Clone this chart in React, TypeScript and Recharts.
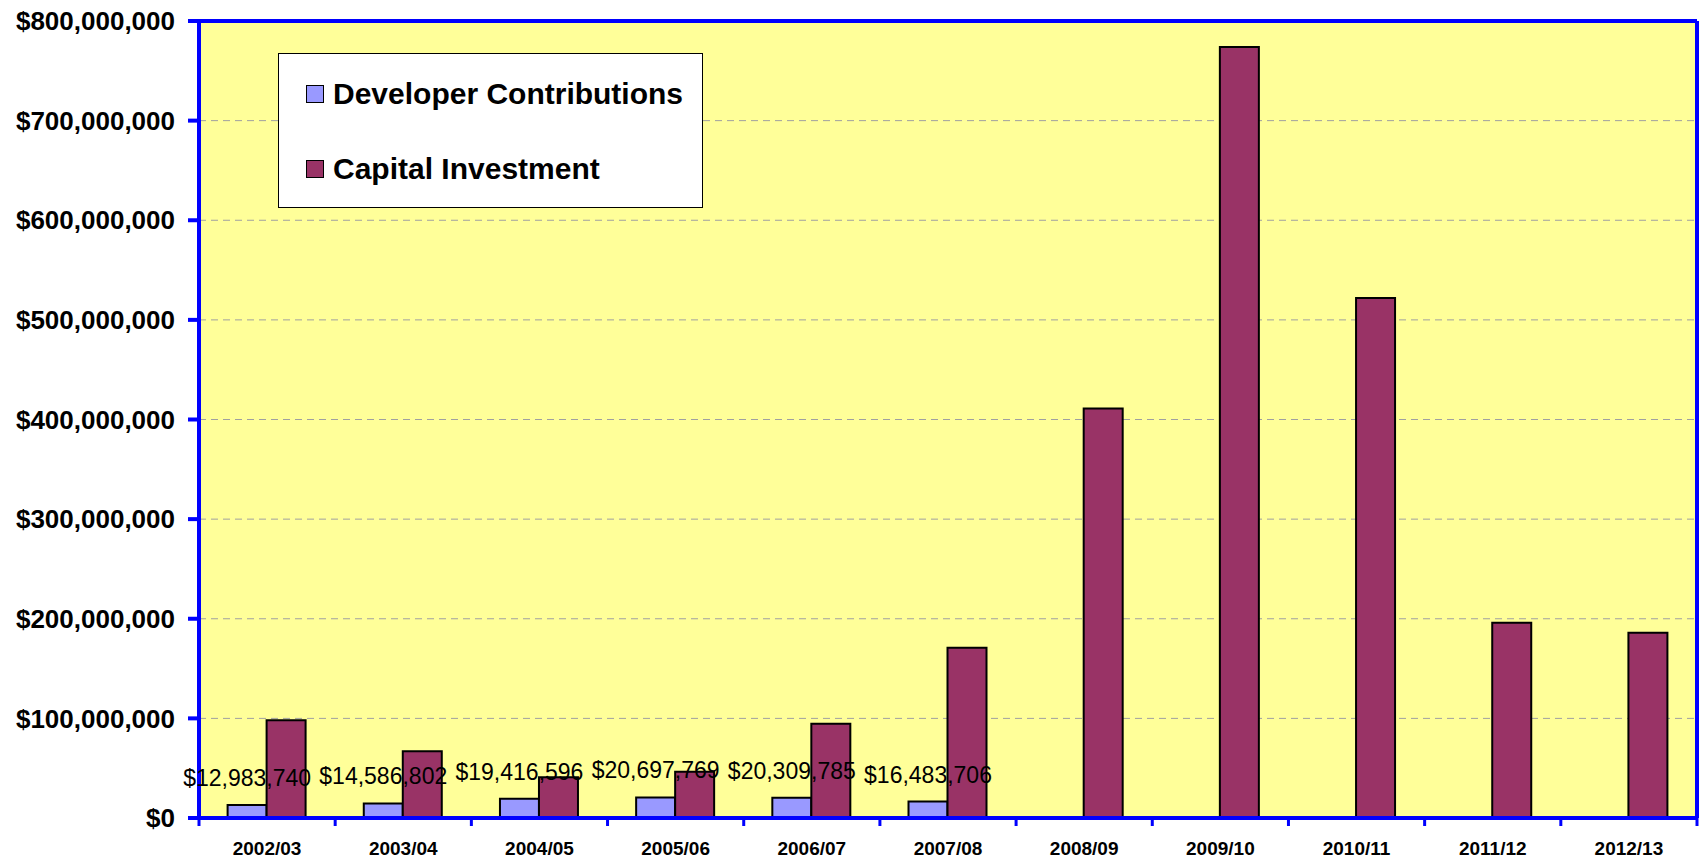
import React from 'react';
import { BarChart, Bar, XAxis, YAxis, CartesianGrid, Legend, LabelList } from 'recharts';

const years = ['2002/03', '2003/04', '2004/05', '2005/06', '2006/07', '2007/08', '2008/09', '2009/10', '2010/11', '2011/12', '2012/13'];
const developerContributions: (number | null)[] = [12983740, 14586802, 19416596, 20697769, 20309785, 16483706, null, null, null, null, null];
const capitalInvestment: number[] = [98000000, 67000000, 41000000, 46500000, 94500000, 171000000, 411000000, 774000000, 522000000, 196000000, 186000000];
const yTicks = [0, 100000000, 200000000, 300000000, 400000000, 500000000, 600000000, 700000000, 800000000];

const data = years.map((year, i) => ({
  year,
  dev: developerContributions[i],
  cap: capitalInvestment[i],
}));

const W = 1704;
const H = 861;
const PLOT_LEFT = 199;
const PLOT_RIGHT = 1697;
const BAND = (PLOT_RIGHT - PLOT_LEFT) / years.length;
const BLUE = '#0000FF';
const FONT = '"Liberation Sans", Arial, sans-serif';
const DEV_COLOR = '#9999FF';
const CAP_COLOR = '#993366';

const money = (v: number) => '$' + Math.round(v).toLocaleString('en-US');

const XTick = (props: any) => {
  const { x, y, payload, index } = props;
  const half = BAND / 2;
  return (
    <g>
      <line x1={x - half} x2={x - half} y1={y} y2={y + 8} stroke={BLUE} strokeWidth={3} />
      {index === years.length - 1 && (
        <line x1={x + half} x2={x + half} y1={y} y2={y + 8} stroke={BLUE} strokeWidth={3} />
      )}
      <text x={x} y={y + 24} dy="0.71em" textAnchor="middle" fontFamily={FONT} fontWeight="bold" fontSize={19} fill="#000">
        {payload.value}
      </text>
    </g>
  );
};

const LegendBox = () => (
  <div
    style={{
      width: 425,
      height: 155,
      background: '#FFFFFF',
      border: '1.5px solid #000',
      boxSizing: 'border-box',
      position: 'relative',
      fontFamily: FONT,
      fontWeight: 'bold',
      fontSize: 30,
      color: '#000',
    }}
  >
    {[
      { name: 'Developer Contributions', color: DEV_COLOR, cy: 40 },
      { name: 'Capital Investment', color: CAP_COLOR, cy: 115 },
    ].map((it) => (
      <div key={it.name} style={{ position: 'absolute', left: 27, top: it.cy - 18, height: 36, display: 'flex', alignItems: 'center', whiteSpace: 'nowrap' }}>
        <span style={{ display: 'inline-block', width: 16, height: 16, background: it.color, border: '1.5px solid #000', marginRight: 9 }} />
        <span style={{ lineHeight: '36px' }}>{it.name}</span>
      </div>
    ))}
  </div>
);

export default function App() {
  return (
    <div style={{ position: 'absolute', left: 0, top: 0, width: W, height: H, background: '#FFFFFF' }}>
      <BarChart
        width={W}
        height={H}
        data={data}
        margin={{ top: 20, right: W - PLOT_RIGHT - 1, bottom: 0, left: 0 }}
        barCategoryGap="21%"
        barGap={0}
      >
        <CartesianGrid vertical={false} stroke="#A0A0A0" strokeDasharray="7 5" fill="#FFFF99" fillOpacity={1} />
        <XAxis
          dataKey="year"
          interval={0}
          tickSize={0}
          tickMargin={0}
          tickLine={false}
          height={43}
          axisLine={{ stroke: BLUE, strokeWidth: 4 }}
          tick={<XTick />}
        />
        <XAxis
          xAxisId="top"
          dataKey="year"
          orientation="top"
          height={1}
          tick={false}
          tickLine={false}
          axisLine={{ stroke: BLUE, strokeWidth: 4 }}
        />
        <YAxis
          width={PLOT_LEFT}
          domain={[0, 800000000]}
          ticks={yTicks}
          interval={0}
          allowDataOverflow
          tickSize={11}
          tickMargin={13}
          tickLine={{ stroke: BLUE, strokeWidth: 4 }}
          axisLine={{ stroke: BLUE, strokeWidth: 4 }}
          tickFormatter={money}
          tick={{ fontFamily: FONT, fontWeight: 'bold', fontSize: 26, fill: '#000' }}
        />
        <YAxis
          yAxisId="r"
          orientation="right"
          width={1}
          domain={[0, 800000000]}
          allowDataOverflow
          tick={false}
          tickLine={false}
          axisLine={{ stroke: BLUE, strokeWidth: 4 }}
        />
        <Legend
          layout="horizontal"
          verticalAlign="middle"
          align="center"
          content={<LegendBox />}
          wrapperStyle={{ position: 'absolute', left: 278, top: 53, width: 425, height: 155 }}
        />
        <Bar dataKey="dev" name="Developer Contributions" fill={DEV_COLOR} stroke="#000" strokeWidth={2} isAnimationActive={false}>
          <LabelList
            dataKey="dev"
            position="top"
            offset={19}
            formatter={(v: any) => (v == null ? '' : money(Number(v)))}
            style={{ fontFamily: FONT, fontSize: 23, fill: '#000' }}
          />
        </Bar>
        <Bar dataKey="cap" name="Capital Investment" fill={CAP_COLOR} stroke="#000" strokeWidth={2} isAnimationActive={false} />
      </BarChart>
    </div>
  );
}
